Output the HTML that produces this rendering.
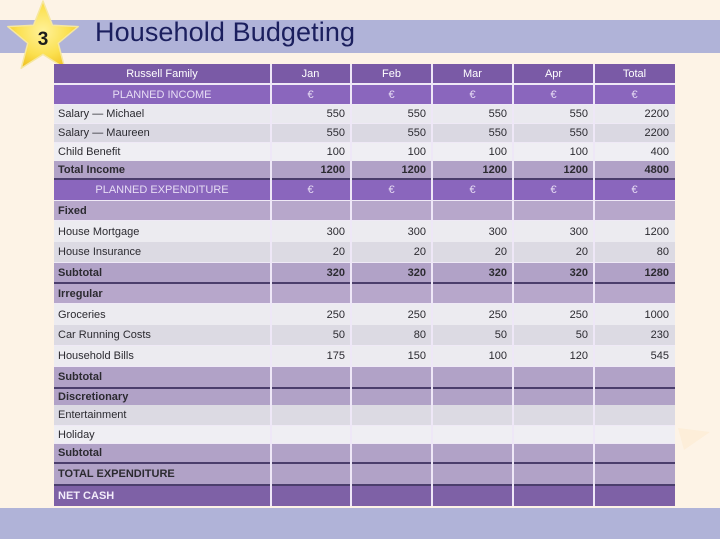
<!DOCTYPE html>
<html>
<head>
<meta charset="utf-8">
<style>
  html,body{margin:0;padding:0;}
  body{width:720px;height:539px;position:relative;overflow:hidden;background:#fdf3e6;font-family:"Liberation Sans",Arial,sans-serif;}
  .band{position:absolute;left:0;width:720px;background:#b0b3d8;}
  .title{position:absolute;left:95px;top:17px;font-size:27px;color:#1b1f5e;letter-spacing:0.1px;white-space:nowrap;}
  .tbl{position:absolute;left:54px;top:64px;width:621px;height:442px;background:#efe9f6;}
  .row{position:absolute;left:54px;width:621px;display:flex;align-items:center;font-size:11px;color:#2b2a30;white-space:nowrap;}
  .row .c0{width:216px;padding-left:4px;box-sizing:border-box;}
  .row .c{width:81px;text-align:right;padding-right:6px;box-sizing:border-box;}
  .h{color:#fff;}
  .h .c0{text-align:center;padding-left:0;}
  .h .c{text-align:center;padding-right:0;}
  .pi{color:#e6dcf4;}
  .b{font-weight:bold;}
  .vl{position:absolute;top:64px;height:442px;width:2px;background:#eee7f7;}
  .dk{position:absolute;left:54px;width:621px;height:2px;background:#4b3e6c;}
</style>
</head>
<body>
<!-- title band -->
<div class="band" style="top:20px;height:33px;"></div>
<div class="title">Household Budgeting</div>

<!-- star -->
<svg style="position:absolute;left:0;top:0;" width="90" height="72" viewBox="0 0 90 72">
  <defs>
    <radialGradient id="sg" cx="0.5" cy="0.45" r="0.6">
      <stop offset="0" stop-color="#fff29a"/>
      <stop offset="0.6" stop-color="#fbe050"/>
      <stop offset="1" stop-color="#f0c020"/>
    </radialGradient>
  </defs>
  <polygon points="43,1 52.4,25.2 78.2,26.6 58.2,43.2 64.8,68.3 43,54.4 21.2,68.3 27.8,43.2 7.8,26.6 33.6,25.2"
    fill="url(#sg)" stroke="#f6e7a0" stroke-width="1.5" stroke-linejoin="round"/>
  <text x="43" y="45" text-anchor="middle" font-family="Liberation Sans, Arial, sans-serif" font-size="19" font-weight="bold" fill="#1c1c1c">3</text>
</svg>

<!-- faint arrow on right -->
<svg style="position:absolute;left:670px;top:410px;" width="50" height="50">
  <polygon points="8,18 40,22 14,40" fill="#fbe6bf" opacity="0.35"/>
</svg>

<!-- table background -->
<div class="tbl"></div>

<!-- rows -->
<div class="row h" style="top:64px;height:19px;background:#7a5aa6;"><div class="c0">Russell Family</div><div class="c">Jan</div><div class="c">Feb</div><div class="c">Mar</div><div class="c">Apr</div><div class="c">Total</div></div>
<div class="row h pi" style="top:85px;height:19px;background:#8a66bd;"><div class="c0">PLANNED INCOME</div><div class="c">€</div><div class="c">€</div><div class="c">€</div><div class="c">€</div><div class="c">€</div></div>
<div class="row" style="top:105px;height:18px;background:#eae9ef;"><div class="c0">Salary — Michael</div><div class="c">550</div><div class="c">550</div><div class="c">550</div><div class="c">550</div><div class="c">2200</div></div>
<div class="row" style="top:124px;height:18px;background:#dad8e2;"><div class="c0">Salary — Maureen</div><div class="c">550</div><div class="c">550</div><div class="c">550</div><div class="c">550</div><div class="c">2200</div></div>
<div class="row" style="top:143px;height:18px;background:#efeef3;"><div class="c0">Child Benefit</div><div class="c">100</div><div class="c">100</div><div class="c">100</div><div class="c">100</div><div class="c">400</div></div>
<div class="row b" style="top:161px;height:17px;background:#b1a2c7;"><div class="c0">Total Income</div><div class="c">1200</div><div class="c">1200</div><div class="c">1200</div><div class="c">1200</div><div class="c">4800</div></div>
<div class="dk" style="top:178px;"></div>
<div class="row h pi" style="top:180px;height:20px;background:#8a66bd;"><div class="c0">PLANNED EXPENDITURE</div><div class="c">€</div><div class="c">€</div><div class="c">€</div><div class="c">€</div><div class="c">€</div></div>
<div class="row b" style="top:201px;height:19px;background:#b7a7cb;"><div class="c0">Fixed</div><div class="c"></div><div class="c"></div><div class="c"></div><div class="c"></div><div class="c"></div></div>
<div class="row" style="top:221px;height:21px;background:#ecebf0;"><div class="c0">House Mortgage</div><div class="c">300</div><div class="c">300</div><div class="c">300</div><div class="c">300</div><div class="c">1200</div></div>
<div class="row" style="top:242px;height:20px;background:#dcdae3;"><div class="c0">House Insurance</div><div class="c">20</div><div class="c">20</div><div class="c">20</div><div class="c">20</div><div class="c">80</div></div>
<div class="row b" style="top:263px;height:19px;background:#b1a2c7;"><div class="c0">Subtotal</div><div class="c">320</div><div class="c">320</div><div class="c">320</div><div class="c">320</div><div class="c">1280</div></div>
<div class="dk" style="top:282px;"></div>
<div class="row b" style="top:284px;height:19px;background:#b7a7cb;"><div class="c0">Irregular</div><div class="c"></div><div class="c"></div><div class="c"></div><div class="c"></div><div class="c"></div></div>
<div class="row" style="top:304px;height:21px;background:#ecebf0;"><div class="c0">Groceries</div><div class="c">250</div><div class="c">250</div><div class="c">250</div><div class="c">250</div><div class="c">1000</div></div>
<div class="row" style="top:325px;height:20px;background:#dcdae3;"><div class="c0">Car Running Costs</div><div class="c">50</div><div class="c">80</div><div class="c">50</div><div class="c">50</div><div class="c">230</div></div>
<div class="row" style="top:346px;height:20px;background:#ecebf0;"><div class="c0">Household Bills</div><div class="c">175</div><div class="c">150</div><div class="c">100</div><div class="c">120</div><div class="c">545</div></div>
<div class="row b" style="top:367px;height:20px;background:#b1a2c7;"><div class="c0">Subtotal</div><div class="c"></div><div class="c"></div><div class="c"></div><div class="c"></div><div class="c"></div></div>
<div class="dk" style="top:387px;"></div>
<div class="row b" style="top:389px;height:16px;background:#b1a2c7;"><div class="c0">Discretionary</div><div class="c"></div><div class="c"></div><div class="c"></div><div class="c"></div><div class="c"></div></div>
<div class="row" style="top:405px;height:20px;background:#dcdae3;"><div class="c0">Entertainment</div><div class="c"></div><div class="c"></div><div class="c"></div><div class="c"></div><div class="c"></div></div>
<div class="row" style="top:426px;height:17px;background:#efeef3;"><div class="c0">Holiday</div><div class="c"></div><div class="c"></div><div class="c"></div><div class="c"></div><div class="c"></div></div>
<div class="row b" style="top:444px;height:18px;background:#b1a2c7;"><div class="c0">Subtotal</div><div class="c"></div><div class="c"></div><div class="c"></div><div class="c"></div><div class="c"></div></div>
<div class="dk" style="top:462px;"></div>
<div class="row b" style="top:464px;height:20px;background:#b1a2c7;"><div class="c0">TOTAL EXPENDITURE</div><div class="c"></div><div class="c"></div><div class="c"></div><div class="c"></div><div class="c"></div></div>
<div class="dk" style="top:484px;"></div>
<div class="row b" style="top:486px;height:20px;background:#7e61a6;color:#f2ecfa;"><div class="c0">NET CASH</div><div class="c"></div><div class="c"></div><div class="c"></div><div class="c"></div><div class="c"></div></div>

<!-- vertical column lines -->
<div class="vl" style="left:270px;"></div>
<div class="vl" style="left:350px;"></div>
<div class="vl" style="left:431px;"></div>
<div class="vl" style="left:512px;"></div>
<div class="vl" style="left:593px;"></div>

<!-- bottom band -->
<div class="band" style="top:508px;height:31px;"></div>
</body>
</html>
